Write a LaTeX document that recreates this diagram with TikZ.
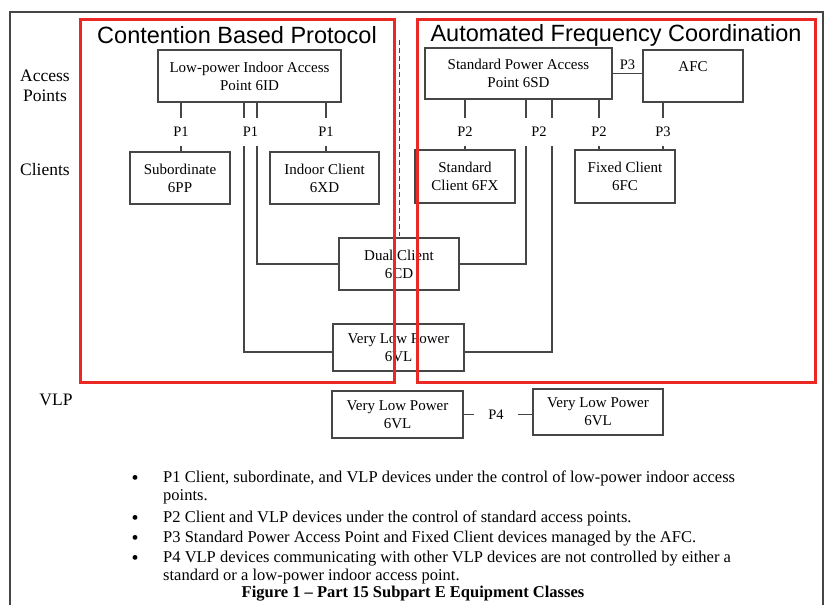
\documentclass[tikz,border=0pt]{standalone}
\usepackage{fontspec}
\setmainfont{Liberation Serif}
\newfontfamily\headfont{Liberation Sans}
\definecolor{framered}{RGB}{234,40,36}
\definecolor{linegray}{RGB}{70,70,70}
\hyphenpenalty=10000

\begin{document}
\begin{tikzpicture}[x=1pt, y=-1pt,
        box/.style={draw=linegray, line width=1.3pt, inner sep=0pt, align=center, font=\fontsize{15}{18}\selectfont},
        link/.style={draw=linegray, line width=1.3pt},
        plabel/.style={inner xsep=2pt, inner ysep=9pt, font=\fontsize{14.5}{17}\selectfont},
        rowlabel/.style={align=center, font=\fontsize{17.5}{20}\selectfont},
        redbox/.style={draw=framered, line width=3pt},
        header/.style={font=\headfont\fontsize{23.5}{26}\selectfont},
        item/.style={anchor=north west, text width=600pt, align=flush left, inner sep=0pt,
                     font=\fontsize{16.5}{17.8}\selectfont}]
        \useasboundingbox (0,0) rectangle (826,605);

        \draw[linegray, line width=1.3pt] (10,605) -- (10,12) -- (823,12) -- (823,605);

        \coordinate (bend1) at (244,352);
        \coordinate (bend2) at (257,264);
        \coordinate (bend3) at (526,264);
        \coordinate (bend4) at (552,352);

        \node[box, minimum width=183, minimum height=52] (lpap) at (249.5,76) {Low-power Indoor Access\\Point 6ID};
        \node[box, minimum width=187, minimum height=51] (spap) at (518.5,73.5) {Standard Power Access\\Point 6SD};
        \node[box, minimum width=100, minimum height=52,
              label={[anchor=north, yshift=-9pt, font=\fontsize{15}{18}\selectfont]north:AFC}] (afc) at (693,76) {};
        \node[box, minimum width=100, minimum height=52] (subord) at (180,178) {Subordinate\\6PP};
        \node[box, minimum width=109, minimum height=52] (indoor) at (324.5,178) {Indoor Client\\6XD};
        \node[box, minimum width=100, minimum height=53] (stdcl) at (465,176.5) {Standard\\Client 6FX};
        \node[box, minimum width=100, minimum height=53] (fixcl) at (625,176.5) {Fixed Client\\6FC};
        \node[box, minimum width=120, minimum height=52] (dual) at (399,264) {Dual Client\\6CD};
        \node[box, minimum width=131, minimum height=47] (vlpmid) at (398.5,347.5) {Very Low Power\\6VL};
        \node[box, minimum width=131, minimum height=47] (vlpa) at (397.5,414.5) {Very Low Power\\6VL};
        \node[box, minimum width=130, minimum height=46] (vlpb) at (598,412) {Very Low Power\\6VL};

        \node[rowlabel] (aplab) at (45,86) {Access\\Points};
        \node[rowlabel] (cllab) at (45,170) {Clients};
        \node[rowlabel] (vlplab) at (56,400) {VLP};

        \node[plabel] (p1a) at (181,132) {P1};
        \node[plabel] (p1b) at (250.5,132) {P1};
        \node[plabel] (p1c) at (326,132) {P1};
        \node[plabel] (p2a) at (465,132) {P2};
        \node[plabel] (p2b) at (539,132) {P2};
        \node[plabel] (p2c) at (599,132) {P2};
        \node[plabel] (p3b) at (663,132) {P3};
        \node[plabel, inner xsep=14pt] (p4) at (496,414.5) {P4};

        \draw[link] (lpap.south -| p1a) -- (p1a.north);
        \draw[link] (p1a.south) -- (subord.north -| p1a);
        \draw[link] (lpap.south -| p1c) -- (p1c.north);
        \draw[link] (p1c.south) -- (indoor.north -| p1c);
        \draw[link] (lpap.south -| bend1) -- (bend1 |- p1b.north);
        \draw[link] (lpap.south -| bend2) -- (bend2 |- p1b.north);
        \draw[link] (bend1 |- p1b.south) -- (bend1) -- (vlpmid.west |- bend1);
        \draw[link] (bend2 |- p1b.south) -- (bend2) -- (dual.west |- bend2);

        \draw[link] (spap.south -| p2a) -- (p2a.north);
        \draw[link] (p2a.south) -- (stdcl.north -| p2a);
        \draw[link] (spap.south -| bend3) -- (bend3 |- p2b.north);
        \draw[link] (spap.south -| bend4) -- (bend4 |- p2b.north);
        \draw[link] (bend3 |- p2b.south) -- (bend3) -- (dual.east |- bend3);
        \draw[link] (bend4 |- p2b.south) -- (bend4) -- (vlpmid.east |- bend4);
        \draw[link] (spap.south -| p2c) -- (p2c.north);
        \draw[link] (p2c.south) -- (fixcl.north -| p2c);
        \draw[link] (afc.south -| p3b) -- (p3b.north);
        \draw[link] (p3b.south) -- (fixcl.north -| p3b);
        \draw[link] (spap.east) -- (spap.east -| afc.west)
                node[midway, above, font=\fontsize{14.5}{17}\selectfont] (p3a) {P3};
        \draw[link] (vlpa.east) -- (vlpa.east -| p4.west);
        \draw[link] (p4.east) -- (p4.east -| vlpb.west);

        \draw[linegray, line width=1pt, dash pattern=on 5pt off 3pt] (399,40) -- (399,236);

        \draw[redbox] (80,19) rectangle (394,382);
        \draw[redbox] (417,19) rectangle (815,382);
        \node[header] (cbp) at (237,35) {Contention Based Protocol};
        \node[header] (afct) at (616,35) {Automated Frequency Coordination};

        \foreach \y in {480,520,540,560}
                \node[font=\fontsize{20}{20}\selectfont] (dot\y) at (135,\y) {\textbullet};
        \node[item] (b1) at (163,471) {P1 Client, subordinate, and VLP devices under the control of low-power indoor access points.};
        \node[item] (b2) at (163,511) {P2 Client and VLP devices under the control of standard access points.};
        \node[item] (b3) at (163,531) {P3 Standard Power Access Point and Fixed Client devices managed by the AFC.};
        \node[item] (b4) at (163,551) {P4 VLP devices communicating with other VLP devices are not controlled by either a standard or a low-power indoor access point.};
        \node[font=\bfseries\fontsize{16.5}{18}\selectfont] (cap) at (413,594) {Figure 1 \textendash{} Part 15 Subpart E Equipment Classes};
        \end{tikzpicture}
\end{document}
